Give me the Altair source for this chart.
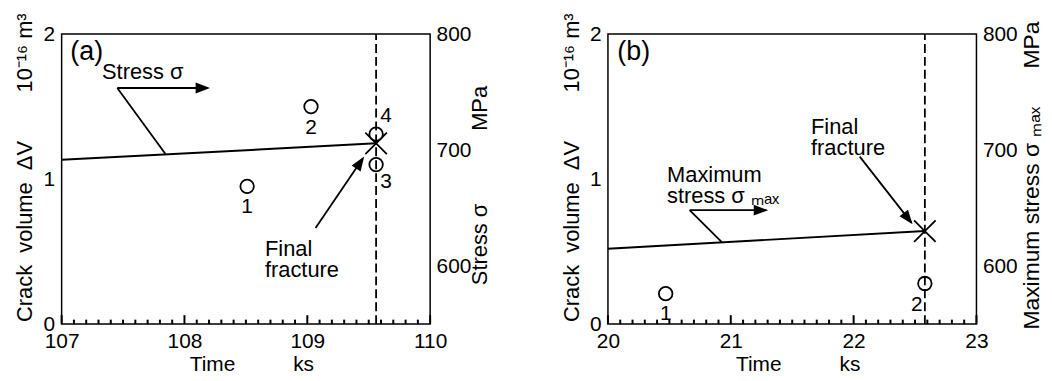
import altair as alt
import pandas as pd

FONT = "Liberation Sans"
NB = "\u00a0"

# ---------------- data: panel (a) ----------------
time_a = [108.51, 109.03, 109.56, 109.56]
vol_a = [0.95, 1.50, 1.10, 1.31]
lab_a = ["1", "2", "3", "4"]
stress_time_a = [107.0, 109.56]
stress_a = [691.6, 705.8]
fracture_time_a = [109.56]
fracture_stress_a = [705.8]

# ---------------- data: panel (b) ----------------
time_b = [20.47, 22.58]
vol_b = [0.21, 0.28]
lab_b = ["1", "2"]
stress_time_b = [20.0, 22.58]
stress_b = [615.0, 630.2]
fracture_time_b = [22.58]
fracture_stress_b = [630.2]

# ---------------- axis ticks ----------------
x_major_a = [107, 108, 109, 110]
x_minor_a = [round(107 + i * 0.1, 1) for i in range(31) if i % 10]
x_major_b = [20, 21, 22, 23]
x_minor_b = [round(20 + i * 0.1, 1) for i in range(31) if i % 10]
vol_major = [0, 1, 2]
stress_labels = [600, 700, 800]

# ---------------- annotations (data units) ----------------
seg_a_t = [107.453, 107.453, 109.067]
seg_a_s = [753.5, 753.5, 632.8]
seg_a_t2 = [107.844, 108.19, 109.45]
seg_a_s2 = [696.8, 753.5, 692.5]
head_a_t = [108.208, 109.463]
head_a_s = [753.5, 694.4]
head_a_ang = [0, 304]
text_a_t = [107.329, 108.655]
text_a_s = [767.2, 614.8]
text_a = ["Stress σ", "Final\nfracture"]

seg_b_t = [20.665, 20.665, 22.05]
seg_b_s = [648.2, 648.2, 694.4]
seg_b_t2 = [20.927, 21.29, 22.47]
seg_b_s2 = [620.6, 648.2, 637.5]
head_b_t = [21.304, 22.48]
head_b_s = [648.2, 636.0]
head_b_ang = [0, 52]
text_b_t = [20.481, 21.653]
text_b_s = [678.2, 720.1]
text_b = ["Maximum\nstress σ ₘₐₓ", "Final\nfracture"]

tag_a = ["(a)"]
tag_b = ["(b)"]
tag_a_t = [107.204]
tag_b_t = [20.21]
tag_v = [1.875]

W, H = 371, 292
INT_LABEL = "format(datum.value, 'd')"
ARROW = "M0,0L-2,-0.75L-2,0.75Z"
XMARK = "M-1,-1L1,1M-1,1L1,-1"
TICK_COLOR = "black"


def panel(x_dom, x_major, x_minor, pt_t, pt_v, pt_lab, lab_off, st_t, st_s, fr_t, fr_s,
          sg_t, sg_s, sg_t2, sg_s2, hd_t, hd_s, hd_a, tx_t, tx_s, tx,
          tg, tg_t, left_title, left_tx, left_ty, right_title, right_tx, right_ty, right_fs):
    xs = alt.Scale(domain=x_dom, nice=False, zero=False)
    ys = alt.Scale(domain=[0, 2], nice=False, zero=False)
    ss = alt.Scale(domain=[550, 800], nice=False, zero=False)

    xaxis = alt.Axis(values=x_major, labelExpr=INT_LABEL, ticks=False, tickSize=0,
                     domain=False, labelPadding=7, labelFlush=False, labelOverlap=False,
                     title="Time" + NB * 10 + "ks", titleFontSize=21,
                     titleX=191, titleY=41, titleBaseline="middle", grid=False)
    yaxis = alt.Axis(values=vol_major, labelExpr=INT_LABEL, ticks=False, tickSize=0,
                     domain=False, labelPadding=7, labelOverlap=False, labelFlush=False,
                     title=left_title, titleAngle=270, titleX=left_tx, titleY=left_ty,
                     titleBaseline="middle", titleAlign="center", grid=False)
    saxis = alt.Axis(orient="right", values=stress_labels, labelExpr=INT_LABEL,
                     ticks=False, tickSize=0, domain=False, labelPadding=6,
                     labelOverlap=False, labelFlush=False,
                     title=right_title, titleAngle=270, titleX=right_tx, titleY=right_ty,
                     titleFontSize=right_fs,
                     titleBaseline="middle", titleAlign="center", grid=False)

    X = lambda f: alt.X(f, scale=xs, axis=xaxis)
    YV = lambda f: alt.Y(f, scale=ys, axis=yaxis)
    YS = lambda f: alt.Y(f, scale=ss, axis=saxis)

    # inward x tick marks (length given in pixels, converted to data units)
    def xticks(vals, ln):
        return alt.Chart(pd.DataFrame({"t": vals, "a": [0.0] * len(vals),
                                       "b": [ln / H * 2] * len(vals)})).mark_rule(
            color=TICK_COLOR, strokeWidth=2).encode(
            x=X("t:Q"), y=YV("a:Q"), y2="b:Q")

    pts_df = pd.DataFrame({"t": pt_t, "v": pt_v, "lab": pt_lab})
    pts = alt.Chart(pts_df).mark_point(shape="circle", size=185, filled=False,
                                       color="black", strokeWidth=1.8, opacity=1).encode(
        x=X("t:Q"), y=YV("v:Q"))
    labs = []
    for lab, (dx, dy) in zip(pt_lab, lab_off):
        labs.append(alt.Chart(pts_df).transform_filter(alt.datum.lab == lab).mark_text(
            dx=dx, dy=dy, fontSize=21, font=FONT, color="black").encode(
            x=X("t:Q"), y=YV("v:Q"), text="lab:N"))
    tag = alt.Chart(pd.DataFrame({"t": tg_t, "v": tag_v, "s": tg})).mark_text(
        fontSize=27, font=FONT, color="black").encode(
        x=X("t:Q"), y=YV("v:Q"), text="s:N")
    frac = alt.Chart(pd.DataFrame({"t": fr_t, "v": [0.0], "v2": [2.0]})).mark_rule(
        strokeDash=[9, 4], strokeWidth=1.8, color="black").encode(
        x=X("t:Q"), y=YV("v:Q"), y2="v2:Q")
    vol_layer = alt.layer(pts, *labs, frac, tag,
                          xticks(x_minor, 4.5), xticks(x_major, 9))

    line = alt.Chart(pd.DataFrame({"t": st_t, "s": st_s})).mark_line(
        strokeWidth=2, color="black").encode(x=X("t:Q"), y=YS("s:Q"))
    xm = alt.Chart(pd.DataFrame({"t": fr_t, "s": fr_s})).mark_point(
        shape=XMARK, size=470, filled=False, strokeWidth=1.8, color="black", opacity=1).encode(
        x=X("t:Q"), y=YS("s:Q"))
    segs = alt.Chart(pd.DataFrame({"t": sg_t, "s": sg_s, "t2": sg_t2, "s2": sg_s2})).mark_rule(
        strokeWidth=1.8, color="black").encode(
        x=X("t:Q"), x2="t2:Q", y=YS("s:Q"), y2="s2:Q")
    heads = alt.Chart(pd.DataFrame({"t": hd_t, "s": hd_s, "a": hd_a})).mark_point(
        shape=ARROW, size=210, filled=True, color="black", opacity=1, strokeWidth=0).encode(
        x=X("t:Q"), y=YS("s:Q"), angle=alt.Angle("a:Q", scale=None))
    texts = alt.Chart(pd.DataFrame({"t": tx_t, "s": tx_s, "txt": tx})).mark_text(
        align="left", baseline="middle", lineBreak="\n", lineHeight=21,
        fontSize=22, font=FONT, color="black").encode(
        x=X("t:Q"), y=YS("s:Q"), text="txt:N")
    stress_layer = alt.layer(line, segs, heads, xm, texts)

    return alt.layer(vol_layer, stress_layer).resolve_scale(y="independent").properties(
        width=W, height=H)


left_title = "Crack" + NB + " volume" + NB + " ΔV" + NB * 8 + "10⁻¹⁶ m³"
pa = panel([107, 110], x_major_a, x_minor_a, time_a, vol_a, lab_a,
           [(0, 21), (0, 22), (10, 18), (10, -18)],
           stress_time_a, stress_a, fracture_time_a, fracture_stress_a,
           seg_a_t, seg_a_s, seg_a_t2, seg_a_s2, head_a_t, head_a_s, head_a_ang,
           text_a_t, text_a_s, text_a, tag_a, tag_a_t,
           left_title, -37, 134,
           "Stress σ" + NB * 12 + "MPa", 50, 152, 22)
pb = panel([20, 23], x_major_b, x_minor_b, time_b, vol_b, lab_b,
           [(0, 21), (-8, 22)],
           stress_time_b, stress_b, fracture_time_b, fracture_stress_b,
           seg_b_t, seg_b_s, seg_b_t2, seg_b_s2, head_b_t, head_b_s, head_b_ang,
           text_b_t, text_b_s, text_b, tag_b, tag_b_t,
           left_title, -36.5, 134,
           "Maximum stress σ ₘₐₓ" + NB * 6 + "MPa", 55, 142, 23)

chart = alt.hconcat(pa, pb, spacing=68).properties(
    padding={"left": 5, "top": 2, "right": 0, "bottom": 0}
).configure_view(stroke="black", strokeWidth=1.5).configure_axis(
    labelFont=FONT, titleFont=FONT, labelColor="black", titleColor="black",
    labelFontSize=21, titleFontSize=22, titleFontWeight="normal")

chart.save("out.html", embed_options={"renderer": "svg", "actions": False})
